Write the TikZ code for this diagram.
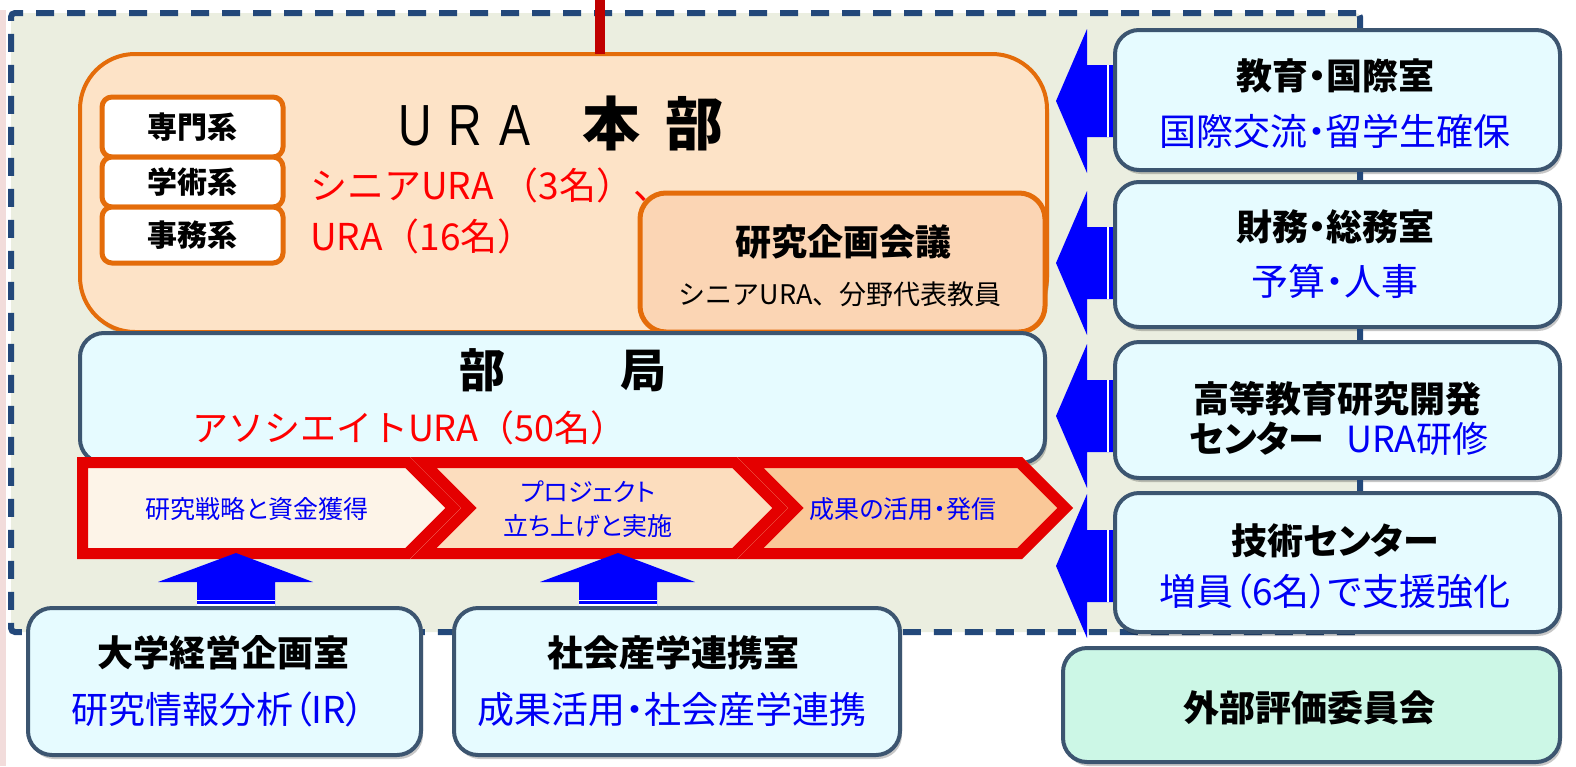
\documentclass[tikz,border=0pt]{standalone}
\usepackage{fontspec}
\usepackage{graphicx}
\setmainfont{Noto Sans CJK JP}[RawFeature=+palt]
\newfontfamily\jpw{Noto Sans CJK JP}
\newfontfamily\latinf{Liberation Sans}
\usetikzlibrary{calc}
\definecolor{bgc}{RGB}{235,238,224}
\definecolor{dashc}{RGB}{35,72,122}
\definecolor{orng}{RGB}{228,108,10}
\definecolor{peach}{RGB}{253,227,199}
\definecolor{peachb}{RGB}{251,213,180}
\definecolor{cyanbox}{RGB}{230,251,255}
\definecolor{slate}{RGB}{60,85,112}
\definecolor{mint}{RGB}{204,247,230}
\definecolor{redb}{RGB}{228,0,0}
\definecolor{blu}{RGB}{0,0,255}
\definecolor{txtblue}{RGB}{0,0,245}
\definecolor{txtred}{RGB}{255,0,0}
\definecolor{pinkstrip}{RGB}{242,220,219}
\definecolor{darkred}{RGB}{192,0,0}
\definecolor{chevA}{RGB}{253,244,232}
\definecolor{chevB}{RGB}{252,221,190}
\definecolor{chevC}{RGB}{250,200,152}
\newcommand\jfs[1]{\fontsize{#1}{#1}\selectfont}
\begin{document}
\begin{tikzpicture}[x=1pt,y=-1pt,
  every node/.style={inner sep=0pt,outer sep=0pt},
  shadowed/.style={preaction={draw=none,fill=black,fill opacity=0.22,transform canvas={xshift=2pt,yshift=-4pt}}},
  frame/.style={draw=dashc,line width=6pt,dash pattern=on 18pt off 13pt,fill=bgc,rounded corners=4pt},
  rbox/.style={shadowed,draw=slate,line width=4pt,fill=cyanbox,rounded corners=24pt},
  urabox/.style={shadowed,draw=orng,line width=4pt,fill=peach,rounded corners=55pt},
  sbox/.style={draw=orng,line width=5pt,fill=white,rounded corners=10pt,font=\jfs{30}\bfseries},
  kbox/.style={draw=orng,line width=5pt,fill=peachb,rounded corners=26pt},
  ttl/.style={font=\jfs{36}\bfseries,text=black},
  btx/.style={font=\jfs{37},text=txtblue},
  rtx/.style={font=\jpw\jfs{37},text=txtred,anchor=west},
  ctx/.style={font=\jfs{25},text=txtblue,align=center},
  redline/.style={draw=darkred,line width=10pt},
  vconn/.style={draw=dashc,line width=6pt},
  blockarrow/.style={fill=blu},
  gap/.style={draw=white,line width=1.5pt}
]
\useasboundingbox (0,0) rectangle (1576,766);
\fill[pinkstrip] (0,10) rectangle (6,766);
% frame
\node[frame,minimum width=1349pt,minimum height=619pt] (frame) at (685.5,322.5) {};
% URA headquarters
\coordinate (topend) at (600,0);
\node[urabox,minimum width=967pt,minimum height=278pt] (ura) at (563.5,193) {};
\draw[redline] (topend) -- (topend |- ura.north);
\node[sbox,minimum width=181pt,minimum height=60pt] (senmon) at (192.5,127) {専門系};
\node[sbox,minimum width=181pt,minimum height=50pt] (gakujutsu) at (192.5,182) {学術系};
\node[sbox,minimum width=181pt,minimum height=56pt] (jimu) at (192.5,235) {事務系};
\node[anchor=base west] (title) at (415,145) {\jfs{58}\makebox[0pt]{\latinf\scalebox{0.8}[1]{U}}\hspace{50pt}\makebox[0pt]{\latinf\scalebox{0.8}[1]{R}}\hspace{50pt}\makebox[0pt]{\latinf\scalebox{0.8}[1]{A}}\hspace{96pt}\makebox[0pt]{\bfseries 本}\hspace{84pt}\makebox[0pt]{\bfseries 部}};
\node[kbox,minimum width=405pt,minimum height=139pt] (kikaku) at (842.5,262.5) {};
\node[ttl,font=\jfs{36}\bfseries] (kikakuT) at (843,242) {研究企画会議};
\node[font=\jpw\jfs{27}] (kikakuS) at (840,294) {シニアURA、分野代表教員};
\node[rtx] (senior) at (310,185) {シニアURA （3名）、};
\node[rtx] (uranum) at (310,236) {URA（16名）};
% bukyoku
\node[rbox,minimum width=965pt,minimum height=130pt] (bukyoku) at (562.5,398) {};
\node[font=\jfs{46}\bfseries] (bukyokuT) at (562.5,370) {部\hspace{115pt}局};
\node[rtx,font=\jpw\jfs{36}] (assoc) at (192,428) {アソシエイトURA（50名）};
% chevrons
\foreach \p/\c in {
  {(77,457) -- (410,457) -- (461,508) -- (410,559) -- (77,559) -- cycle}/chevA,
  {(410,457) -- (737,457) -- (788,508) -- (737,559) -- (410,559) -- (461,508) -- cycle}/chevB,
  {(737,457) -- (1022,457) -- (1073,508) -- (1022,559) -- (737,559) -- (788,508) -- cycle}/chevC}{
  \fill[\c] \p;
  \begin{scope}
    \clip \p;
    \draw[redb,line width=22pt,line join=miter] \p;
  \end{scope}
}
\node[ctx] (chevT1) at (257,509) {研究戦略と資金獲得};
\node[ctx,font={\fontsize{25}{34}\selectfont}] (chevT2) at (588,509) {プロジェクト\\立ち上げと実施};
\node[ctx] (chevT3) at (903,509) {成果の活用・発信};
% up arrows
\foreach \cx in {236,618}{
  \fill[blockarrow] (\cx,553) -- (\cx+77,582) -- (\cx+39,582) -- (\cx+39,610) -- (\cx-39,610) -- (\cx-39,582) -- (\cx-78,582) -- cycle;
  \draw[gap] (\cx-39,600.5) -- (\cx+39,600.5);
  \draw[gap] (\cx-39,605) -- (\cx+39,605);
}
% left arrows
\foreach \cy in {101,263,416,566}{
  \fill[blockarrow] (1056,\cy) -- (1087,\cy-72) -- (1087,\cy-36) -- (1118,\cy-36) -- (1118,\cy+36) -- (1087,\cy+36) -- (1087,\cy+72) -- cycle;
  \draw[gap] (1108,\cy-36) -- (1108,\cy+36);
}
% right boxes
\node[rbox,minimum width=445pt,minimum height=140pt] (kyoiku) at (1337.5,100) {};
\node[rbox,minimum width=445pt,minimum height=145pt] (zaimu) at (1337.5,254.5) {};
\node[rbox,minimum width=445pt,minimum height=136pt] (koutou) at (1337.5,410) {};
\node[rbox,minimum width=445pt,minimum height=139pt] (gijutsu) at (1337.5,562.5) {};
\node[rbox,fill=mint,minimum width=497pt,minimum height=114pt] (gaibu) at (1311.5,705) {};
\draw[vconn] ($(kyoiku.south)+(22.5,2)$) -- ($(zaimu.north)+(22.5,-2)$);
\draw[vconn] ($(zaimu.south)+(22.5,2)$) -- ($(koutou.north)+(22.5,-2)$);
\draw[vconn] ($(koutou.south)+(22.5,2)$) -- ($(gijutsu.north)+(22.5,-2)$);
\node[ttl] (kyoikuT) at (1335,76) {教育・国際室};
\node[btx] (kyoikuB) at (1335,131) {国際交流・留学生確保};
\node[ttl] (zaimuT) at (1335,227) {財務・総務室};
\node[btx] (zaimuB) at (1335,281) {予算・人事};
\node[ttl] (koutouT) at (1337,399) {高等教育研究開発};
\node[font=\jfs{36}] (koutouB) at (1339,439) {\bfseries センター\hspace{22pt}\mdseries\color{txtblue}URA研修};
\node[ttl] (gijutsuT) at (1335,541) {技術センター};
\node[btx] (gijutsuB) at (1335,591) {増員（6名）で支援強化};
\node[ttl] (gaibuT) at (1309,708) {外部評価委員会};
% bottom boxes
\node[rbox,minimum width=393pt,minimum height=147pt] (daigaku) at (224.5,681.5) {};
\node[rbox,minimum width=446pt,minimum height=147pt] (shakai) at (677,681.5) {};
\node[ttl] (daigakuT) at (223,653) {大学経営企画室};
\node[btx] (daigakuB) at (218,709) {研究情報分析（IR）};
\node[ttl] (shakaiT) at (673,653) {社会産学連携室};
\node[btx] (shakaiB) at (672,709) {成果活用・社会産学連携};
\end{tikzpicture}
\end{document}
